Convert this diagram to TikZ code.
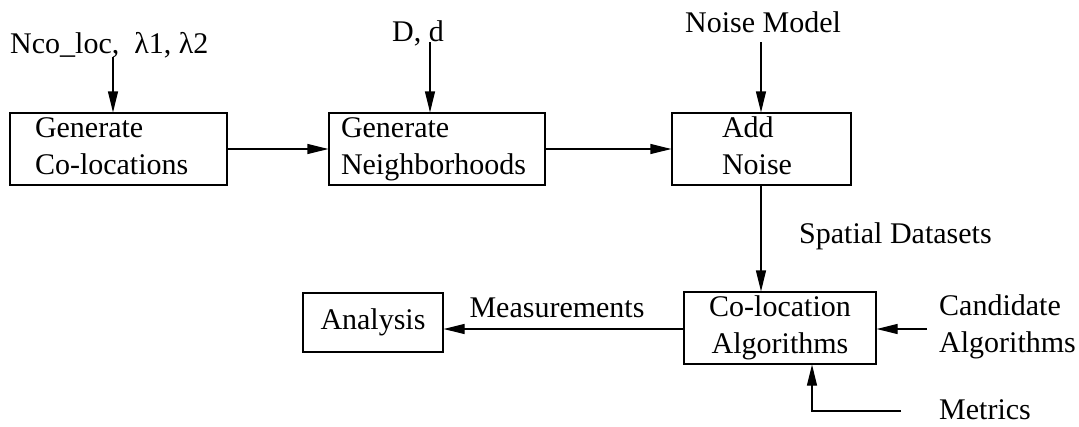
\documentclass[tikz,border=0pt]{standalone}
\usepackage{fontspec}
\setmainfont{Liberation Serif}
\usetikzlibrary{arrows.meta}
\begin{document}
\begin{tikzpicture}[x=1pt,y=-1pt,
  every node/.style={font=\fontsize{30}{37}\selectfont, inner sep=0pt},
  box/.style={draw, line width=1.2pt, minimum height=72pt},
  lbl/.style={},
  conn/.style={line width=1.2pt, -{Triangle[length=21pt,width=10pt]}}]
\useasboundingbox (0,0) rectangle (1079,426);
% boxes
\node[box, minimum width=217pt, text width=167pt, inner xsep=25pt, align=left] (gen) at (118.5,149) {Generate\\Co-locations\vphantom{g}};
\node[box, minimum width=216pt, text width=192pt, inner xsep=12pt, align=left] (nbr) at (437,149) {Generate\\Neighborhoods};
\node[box, minimum width=179pt, text width=79pt, inner xsep=50pt, align=left] (noise) at (761.5,149) {Add\\Noise\vphantom{g}};
\node[box, minimum width=192pt, align=center] (colo) at (780,328) {Co-location\\Algorithms};
\node[box, minimum width=140pt, minimum height=59pt, align=center] (ana) at (373,322.5) {Analysis};
% labels
\node[lbl, anchor=west] (nco) at (10,45) {Nco\_loc,\ \ λ1, λ2};
\node[lbl] (dd) at (418,33) {D, d};
\node[lbl] (nm) at (763,22) {Noise Model};
\node[lbl, anchor=west] (sd) at (799,236) {Spatial Datasets};
\node[lbl] (meas) at (557,308) {Measurements};
\node[lbl, anchor=west, align=left] (cand) at (939,326.5) {Candidate\\Algorithms};
\node[lbl, anchor=base west] (met) at (939,419) {Metrics};
% coordinates for free ends
\coordinate (c1) at (113,57);
\coordinate (c2) at (430,42);
\coordinate (c3) at (761,42);
\coordinate (c4) at (927,329);
\coordinate (c5) at (901,411);
\coordinate (c6) at (812,364);
% connectors
\draw[conn] (c1) -- (c1 |- gen.north);
\draw[conn] (c2) -- (c2 |- nbr.north);
\draw[conn] (c3) -- (c3 |- noise.north);
\draw[conn] (gen.east) -- (nbr.west);
\draw[conn] (nbr.east) -- (noise.west);
\draw[conn] (noise.south -| c3) -- (c3 |- colo.north);
\draw[conn] (c4) -- (c4 -| colo.east);
\draw[conn] (c5) -| (c6 |- colo.south);
\draw[conn] (colo.west |- c4) -- (ana.east |- c4);
\end{tikzpicture}
\end{document}
